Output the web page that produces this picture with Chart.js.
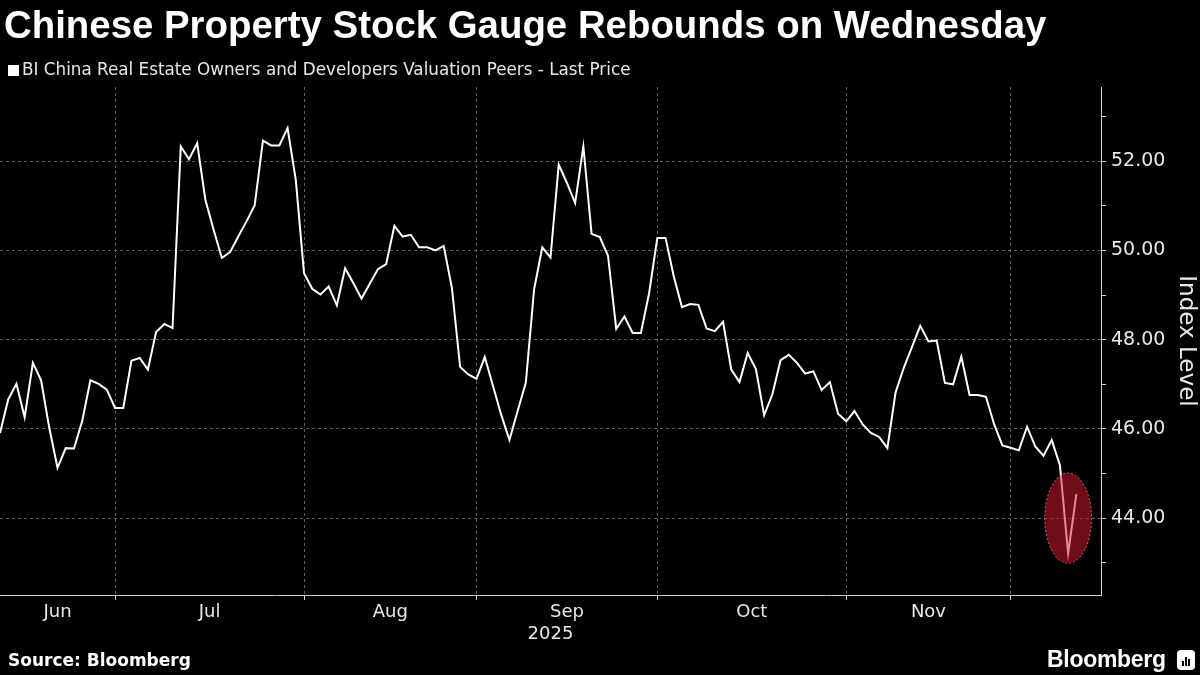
<!DOCTYPE html>
<html>
<head>
<meta charset="utf-8">
<script src="https://cdn.jsdelivr.net/npm/chart.js@4/dist/chart.umd.min.js"></script>
<style>
  body { margin: 0; background: #000; width: 1200px; height: 675px; overflow: hidden; position: relative; }
  #chart { position: absolute; left: 0; top: 0; }
  .title { position: absolute; left: 4px; top: 6px; color: #fff; font: bold 38.4px "Liberation Sans", Arial, sans-serif; line-height: 38px; white-space: nowrap; }
  .legend { position: absolute; left: 8px; top: 60px; color: #e6e6e6; font: 16.8px "DejaVu Sans", sans-serif; line-height: 19px; white-space: nowrap; }
  .legend span { display: inline-block; width: 11px; height: 11px; background: #fff; margin-right: 3px; vertical-align: -1px; }
  .source { position: absolute; left: 8px; top: 650px; color: #fff; font: bold 17px "DejaVu Sans", sans-serif; white-space: nowrap; }
  .logo { position: absolute; left: 1047px; top: 646px; color: #fff; font: bold 23px "Liberation Sans", Arial, sans-serif; letter-spacing: -0.3px; white-space: nowrap; }
  .icon { position: absolute; left: 1177px; top: 650px; width: 18px; height: 20px; background: #fff; border-radius: 4px; }
  .icon i { position: absolute; bottom: 4px; width: 2px; background: #000; }
</style>
</head>
<body>
<canvas id="chart" width="1200" height="675"></canvas>
<div class="title">Chinese Property Stock Gauge Rebounds on Wednesday</div>
<div class="legend"><span></span>BI China Real Estate Owners and Developers Valuation Peers - Last Price</div>
<div class="source">Source: Bloomberg</div>
<div class="logo">Bloomberg</div>
<div class="icon"><i style="left:5px;height:5px"></i><i style="left:8px;height:9px"></i><i style="left:11px;height:7px"></i></div>
<script>
// Index level, one value per weekday (mid-Jun to Dec 2025)
const indexValues = [
  45.91, 46.66, 47.01, 46.26, 47.48, 47.09, 46.02, 45.13, 45.57, 45.56,
  46.17, 47.09, 47.01, 46.88, 46.47, 46.47, 47.53, 47.59, 47.33, 48.17,
  48.35, 48.26, 52.33, 52.04, 52.40, 51.13, 50.46, 49.83, 49.96, 50.31,
  50.65, 51.01, 52.46, 52.35, 52.35, 52.74, 51.58, 49.49, 49.14, 49.01,
  49.19, 48.77, 49.60, 49.27, 48.92, 49.25, 49.58, 49.69, 50.55, 50.31,
  50.35, 50.07, 50.07, 50.00, 50.10, 49.16, 47.39, 47.22, 47.12, 47.61,
  46.96, 46.32, 45.75, 46.40, 47.04, 49.12, 50.07, 49.84, 51.92, 51.51,
  51.06, 52.33, 50.37, 50.30, 49.88, 48.24, 48.52, 48.15, 48.15, 49.04,
  50.28, 50.28, 49.42, 48.73, 48.80, 48.78, 48.25, 48.19, 48.40, 47.33,
  47.05, 47.70, 47.34, 46.31, 46.77, 47.54, 47.66, 47.48, 47.24, 47.29,
  46.87, 47.05, 46.34, 46.17, 46.40, 46.10, 45.91, 45.82, 45.57, 46.82,
  47.37, 47.84, 48.31, 47.96, 47.98, 47.03, 47.00, 47.62, 46.76, 46.76,
  46.72, 46.10, 45.63, 45.58, 45.52, 46.05, 45.61, 45.40, 45.75, 45.19,
  43.21, 44.54
];

// Month labels and the weekday index where the next month starts
const monthLabels = ["Jun", "Jul", "Aug", "Sep", "Oct", "Nov"];
const monthStarts = [14, 37, 58, 80, 103, 123]; // Jul 1, Aug 1, Sep 1, Oct 1, Nov 3, Dec 1
const yearLabel = "2025";

// Y axis ticks
const majorTicks = [44, 46, 48, 50, 52];
const minorTicks = [43, 45, 47, 49, 51, 53];

// Highlighted rebound (centre of the red circle)
const highlightIndex = 130;
const highlightValue = 44;

const xMin = 0;
const xMax = 134;

// month label positions = middle of each month
const monthCenters = monthLabels.map((m, i) => ((i === 0 ? xMin : monthStarts[i - 1]) + monthStarts[i]) / 2);
const yearCenter = (xMin + xMax) / 2;

const gridColor = "#5e5e5e";
const axisColor = "#d0d0d0";
const textColor = "#e8e8e8";

// Red circle around the last days
const highlightPlugin = {
  id: "highlight",
  afterDatasetsDraw(chart) {
    const { ctx, scales } = chart;
    const cx = scales.x.getPixelForValue(highlightIndex);
    const cy = scales.y.getPixelForValue(highlightValue);
    const rx = scales.x.getPixelForValue(highlightIndex + 2.85) - cx;
    const ry = cy - scales.y.getPixelForValue(highlightValue + 1.01);
    ctx.save();
    ctx.beginPath();
    ctx.ellipse(cx, cy, rx, ry, 0, 0, Math.PI * 2);
    ctx.fillStyle = "rgba(210, 26, 52, 0.52)";
    ctx.fill();
    ctx.setLineDash([2, 2]);
    ctx.lineWidth = 1;
    ctx.strokeStyle = "rgba(240, 120, 140, 0.8)";
    ctx.stroke();
    ctx.restore();
  }
};

const ctx = document.getElementById("chart").getContext("2d");
const chart = new Chart(ctx, {
  type: "line",
  data: {
    datasets: [
      {
        label: "BI China Real Estate Owners and Developers Valuation Peers - Last Price",
        data: indexValues.map((v, i) => ({ x: i, y: v })),
        borderColor: "#ffffff",
        borderWidth: 2,
        pointRadius: 0,
        fill: false,
        tension: 0
      }
    ]
  },
  options: {
    responsive: false,
    animation: false,
    layout: { padding: { top: 87, left: 0, right: 0, bottom: 0 } },
    plugins: {
      legend: { display: false },
      tooltip: { enabled: false }
    },
    scales: {
      x: {
        type: "linear",
        min: xMin,
        max: xMax,
        afterBuildTicks: axis => {
          const vals = monthStarts.concat(monthCenters, [yearCenter]).sort((a, b) => a - b);
          axis.ticks = vals.map(v => ({ value: v }));
        },
        afterFit: axis => { axis.height = 80; },
        ticks: {
          autoSkip: false,
          maxRotation: 0,
          padding: 2,
          color: textColor,
          font: { family: "DejaVu Sans", size: 18 },
          callback: value => {
            const k = monthCenters.indexOf(value);
            if (k >= 0) return monthLabels[k];
            if (value === yearCenter) return ["", yearLabel];
            return "";
          }
        },
        grid: {
          color: c => (monthStarts.includes(c.tick.value) ? gridColor : "transparent"),
          tickColor: c => (monthStarts.includes(c.tick.value) ? axisColor : "transparent"),
          tickLength: 5,
          lineWidth: 1
        },
        border: { display: true, color: axisColor, width: 1, dash: [3, 3] }
      },
      y: {
        position: "right",
        min: 42.28,
        max: 53.66,
        afterBuildTicks: axis => {
          axis.ticks = minorTicks.concat(majorTicks).sort((a, b) => a - b).map(v => ({ value: v }));
        },
        afterFit: axis => { axis.width = 99; },
        ticks: {
          padding: 5,
          color: textColor,
          font: { family: "DejaVu Sans", size: 19 },
          callback: value => (majorTicks.includes(value) ? value.toFixed(2) : "")
        },
        grid: {
          color: c => (majorTicks.includes(c.tick.value) ? gridColor : "transparent"),
          tickColor: axisColor,
          tickLength: 5,
          lineWidth: 1
        },
        border: { display: true, color: axisColor, width: 1, dash: [3, 3] },
        title: {
          display: true,
          text: "Index Level",
          color: textColor,
          font: { family: "DejaVu Sans", size: 23 },
          padding: { top: 0, bottom: 0 }
        }
      }
    }
  },
  plugins: [highlightPlugin]
});
</script>
</body>
</html>
